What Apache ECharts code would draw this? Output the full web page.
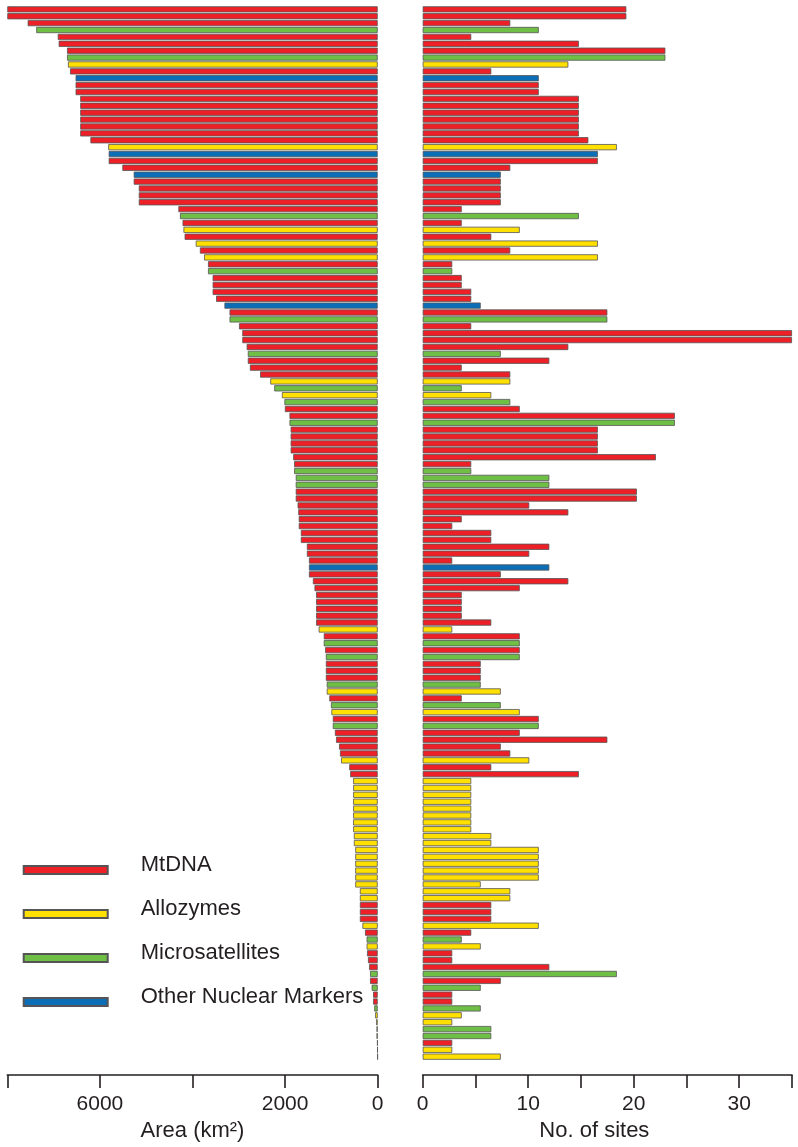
<!DOCTYPE html>
<html>
<head>
<meta charset="utf-8">
<script src="https://cdn.jsdelivr.net/npm/echarts@6/dist/echarts.min.js"></script>
<style>
html,body{margin:0;padding:0;background:#fff;}
#chart{width:798px;height:1147px;}
</style>
</head>
<body>
<div id="chart"></div>
<script>
// Marker type of each study: M = MtDNA, A = Allozymes, S = Microsatellites, N = Other Nuclear Markers
const markers = [
 'M','M','M','S','M','M','M','S','A','M',
 'N','M','M','M','M','M','M','M','M','M',
 'A','N','M','M','N','M','M','M','M','M',
 'S','M','A','M','A','M','A','M','S','M',
 'M','M','M','N','M','S','M','M','M','M',
 'S','M','M','M','A','S','A','S','M','M',
 'S','M','M','M','M','M','M','S','S','S',
 'M','M','M','M','M','M','M','M','M','M',
 'M','N','M','M','M','M','M','M','M','M',
 'A','M','S','M','S','M','M','M','S','A',
 'M','S','A','M','S','M','M','M','M','A',
 'M','M','A','A','A','A','A','A','A','A',
 'A','A','A','A','A','A','A','A','A','A',
 'M','M','M','A','M','S','A','M','M','M',
 'S','M','S','M','M','S','A','A','S','S',
 'M','A','A'
];
// Area (km2)
const area = [
 8000,8000,7560,7375,6910,6890,6710,6710,6690,6645,
 6525,6525,6525,6425,6425,6425,6425,6425,6425,6205,
 5820,5810,5810,5515,5270,5270,5160,5160,5160,4305,
 4270,4215,4195,4170,3930,3840,3750,3665,3665,3565,
 3565,3565,3490,3310,3200,3200,2995,2925,2925,2830,
 2805,2805,2760,2540,2320,2235,2070,2015,2005,1905,
 1905,1880,1880,1880,1880,1825,1805,1805,1770,1770,
 1770,1770,1730,1715,1705,1705,1660,1660,1530,1530,
 1485,1485,1485,1400,1365,1330,1330,1330,1330,1330,
 1275,1165,1165,1135,1120,1120,1120,1120,1100,1100,
 1045,1010,1000,970,970,925,900,835,815,790,
 615,595,530,530,530,530,530,530,530,530,
 515,515,485,485,485,485,485,485,385,385,
 385,385,385,330,275,240,240,230,210,185,
 165,165,130,100,100,75,55,35,25,25,
 12,8,5
];
// No. of sites (axis units as drawn)
const sites = [
 19.3,19.3,8.3,11.0,4.6,14.8,23.0,23.0,13.8,6.5,
 11.0,11.0,11.0,14.8,14.8,14.8,14.8,14.8,14.8,15.7,
 18.4,16.6,16.6,8.3,7.4,7.4,7.4,7.4,7.4,3.7,
 14.8,3.7,9.2,6.5,16.6,8.3,16.6,2.8,2.8,3.7,
 3.7,4.6,4.6,5.5,17.5,17.5,4.6,35,35,13.8,
 7.4,12.0,3.7,8.3,8.3,3.7,6.5,8.3,9.2,23.9,
 23.9,16.6,16.6,16.6,16.6,22.1,4.6,4.6,12.0,12.0,
 20.3,20.3,10.1,13.8,3.7,2.8,6.5,6.5,12.0,10.1,
 2.8,12.0,7.4,13.8,9.2,3.7,3.7,3.7,3.7,6.5,
 2.8,9.2,9.2,9.2,9.2,5.5,5.5,5.5,5.5,7.4,
 3.7,7.4,9.2,11.0,11.0,9.2,17.5,7.4,8.3,10.1,
 6.5,14.8,4.6,4.6,4.6,4.6,4.6,4.6,4.6,4.6,
 6.5,6.5,11.0,11.0,11.0,11.0,11.0,5.5,8.3,8.3,
 6.5,6.5,6.5,11.0,4.6,3.7,5.5,2.8,2.8,12.0,
 18.4,7.4,5.5,2.8,2.8,5.5,3.7,2.8,6.5,6.5,
 2.8,2.8,7.4
];
const markerTypes = [
 {key:'M', name:'MtDNA', color:'#ED2027'},
 {key:'A', name:'Allozymes', color:'#FFE000'},
 {key:'S', name:'Microsatellites', color:'#6FBE45'},
 {key:'N', name:'Other Nuclear Markers', color:'#0C6EB7'}
];
const areaTicks = [0, 8000, 2000];       // min, max, step
const areaTickLabels = [6000, 2000, 0];
const siteTicks = [0, 35, 5];
const siteTickLabels = [0, 10, 20, 30];

const categories = markers.map((m, i) => 'Study ' + (i + 1));
const font = '"Liberation Sans", Arial, Helvetica, sans-serif';
const ink = '#231f20';

const series = [];
markerTypes.forEach(t => {
  const common = {
    type: 'bar',
    name: t.name,
    barCategoryGap: '10%',
    itemStyle: {color: t.color, borderColor: '#555557', borderWidth: 0.8},
    emphasis: {disabled: true},
    silent: true
  };
  series.push(Object.assign({}, common, {
    xAxisIndex: 0, yAxisIndex: 0, stack: 'area',
    data: area.map((v, i) => markers[i] === t.key ? v : '-')
  }));
  series.push(Object.assign({}, common, {
    xAxisIndex: 1, yAxisIndex: 1, stack: 'sites',
    data: sites.map((v, i) => markers[i] === t.key ? v : '-')
  }));
});

const axisCommon = {
  type: 'value',
  position: 'bottom',
  offset: 15,
  splitLine: {show: false},
  axisLine: {show: true, onZero: false, lineStyle: {color: ink, width: 1.6}},
  axisTick: {show: true, inside: false, length: 13, lineStyle: {color: ink, width: 1.6}},
  nameLocation: 'middle',
  nameGap: 44
};

const option = {
  backgroundColor: '#ffffff',
  animation: false,
  textStyle: {fontFamily: font},
  grid: [
    {left: 7.3, width: 370.4, top: 5.9, height: 1055},
    {left: 422.7, width: 369.3, top: 5.9, height: 1055}
  ],
  legend: {
    orient: 'vertical',
    left: 22.7,
    top: 854,
    padding: 0,
    itemWidth: 84,
    itemHeight: 8,
    itemGap: 22,
    icon: 'rect',
    selectedMode: false,
    data: markerTypes.map(t => t.name),
    formatter: name => '{t|' + name + '}{s| }',
    textStyle: {
      fontSize: 22, color: ink, fontFamily: font, padding: [0, 0, 0, 28],
      rich: {
        t: {fontSize: 22, lineHeight: 22, color: ink, fontFamily: font, verticalAlign: 'top'},
        s: {fontSize: 22, lineHeight: 32, width: 1, verticalAlign: 'top'}
      }
    }
  },
  xAxis: [
    Object.assign({}, axisCommon, {
      gridIndex: 0, inverse: true,
      min: areaTicks[0], max: areaTicks[1], interval: areaTicks[2],
      axisLabel: {
        fontSize: 21, color: ink, margin: 19, fontFamily: font,
        formatter: v => areaTickLabels.indexOf(v) >= 0 ? String(v) : ''
      },
      name: 'Area (km²)',
      nameTextStyle: {fontSize: 22, color: ink, fontFamily: font}
    }),
    Object.assign({}, axisCommon, {
      gridIndex: 1,
      min: siteTicks[0], max: siteTicks[1], interval: siteTicks[2],
      axisLabel: {
        fontSize: 21, color: ink, margin: 19, fontFamily: font,
        formatter: v => siteTickLabels.indexOf(v) >= 0 ? String(v) : ''
      },
      name: 'No. of sites',
      nameTextStyle: {fontSize: 22, color: ink, fontFamily: font, padding: [0, 26, 0, 0]}
    })
  ],
  yAxis: [
    {type: 'category', gridIndex: 0, data: categories, inverse: true, show: false},
    {type: 'category', gridIndex: 1, data: categories, inverse: true, show: false}
  ],
  series: series
};

const chart = echarts.init(document.getElementById('chart'), null, {renderer: 'canvas'});
chart.setOption(option);
</script>
</body>
</html>
